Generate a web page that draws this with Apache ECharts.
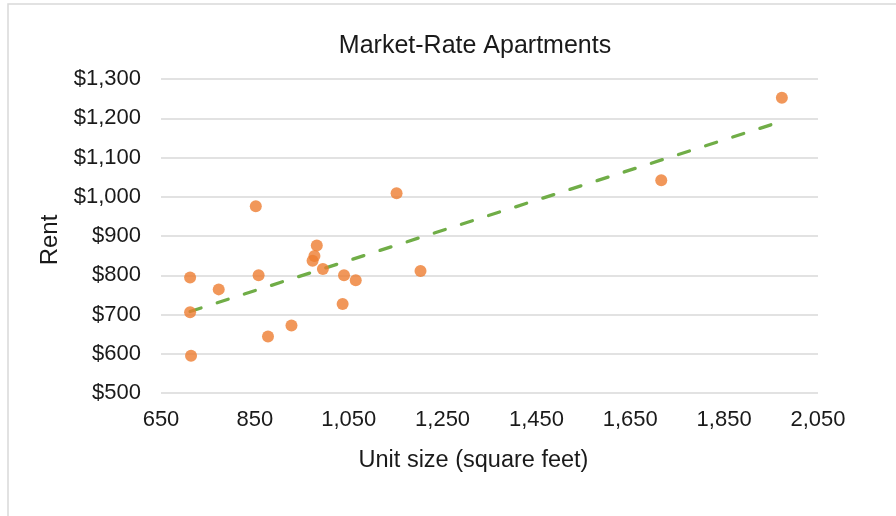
<!DOCTYPE html>
<html><head><meta charset="utf-8">
<script src="https://cdn.jsdelivr.net/npm/echarts@6/dist/echarts.min.js"></script>
<style>html,body{margin:0;padding:0;background:#fff}#c{width:896px;height:516px}</style>
</head><body><div id="c"></div>
<script>
const unitSize = [1973, 1716, 1152, 852, 982, 977, 973, 995, 712, 858, 1040, 1065, 1203, 773, 712, 1037, 928, 878, 714];
const rent     = [1252, 1042, 1009, 976, 876, 849, 837, 816, 794, 800, 800, 787, 811, 764, 706, 727, 672, 644, 595];
const chartTitle = 'Market-Rate Apartments';
const xName = 'Unit size (square feet)';
const yName = 'Rent';

const pts = unitSize.map((x, i) => [x, rent[i]]);
// least-squares trendline
const n = pts.length;
const mx = unitSize.reduce((a, b) => a + b, 0) / n;
const my = rent.reduce((a, b) => a + b, 0) / n;
let sxy = 0, sxx = 0;
for (let i = 0; i < n; i++) { sxy += (unitSize[i] - mx) * (rent[i] - my); sxx += (unitSize[i] - mx) ** 2; }
const slope = sxy / sxx, icpt = my - slope * mx;
const xmin = Math.min(...unitSize), xmax = Math.max(...unitSize);
const trend = [[xmin, icpt + slope * xmin], [xmax, icpt + slope * xmax]];

const fmtNum = v => v.toLocaleString('en-US');
const chart = echarts.init(document.getElementById('c'));
const font = 'Liberation Sans, Arial, sans-serif';
const txt = '#1a1a1a';
chart.setOption({
  animation: false,
  textStyle: { fontFamily: font },
  graphic: [{ type: 'rect', shape: { x: 8, y: 4, width: 900, height: 520 }, style: { fill: 'none', stroke: '#d9d9d9', lineWidth: 1.5 }, z: -1 }],
  title: { text: chartTitle, left: 470, top: 29, textAlign: 'center',
    textStyle: { fontFamily: font, fontSize: 25, fontWeight: 'normal', color: txt } },
  grid: { left: 161, right: 78, top: 79, bottom: 123 },
  xAxis: { type: 'value', min: 650, max: 2050, interval: 200,
    name: xName, nameLocation: 'middle', nameGap: 56,
    nameTextStyle: { fontFamily: font, fontSize: 23.5, color: txt, padding: [0, 32, 0, 0] },
    axisLine: { show: false }, axisTick: { show: false }, splitLine: { show: false },
    axisLabel: { fontFamily: font, fontSize: 22, color: txt, margin: 16, formatter: v => fmtNum(v) } },
  yAxis: { type: 'value', min: 500, max: 1300, interval: 100,
    name: yName, nameLocation: 'middle', nameGap: 93, nameRotate: 90,
    nameTextStyle: { fontFamily: font, fontSize: 24, color: txt, padding: [0, 8, 0, 0] },
    axisLine: { show: false }, axisTick: { show: false },
    splitLine: { lineStyle: { color: '#d9d9d9', width: 1.5 } },
    axisLabel: { fontFamily: font, fontSize: 22, color: txt, margin: 20, formatter: v => '$' + fmtNum(v) } },
  series: [
    { type: 'line', data: trend, symbol: 'none', z: 1,
      lineStyle: { color: '#70AD47', width: 3.3, type: [11.5, 17], cap: 'round' } },
    { type: 'scatter', data: pts, symbolSize: 12, z: 2,
      itemStyle: { color: '#ED7D31' } }
  ]
});
</script></body></html>
